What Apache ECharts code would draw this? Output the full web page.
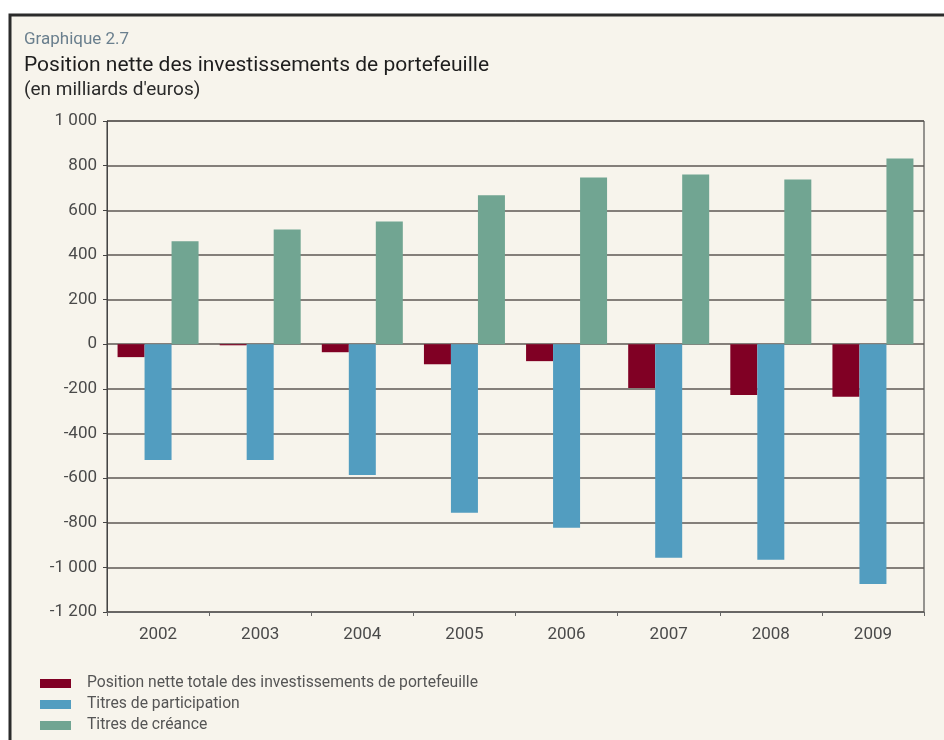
<!DOCTYPE html>
<html><head><meta charset="utf-8">
<script src="https://cdn.jsdelivr.net/npm/echarts@6/dist/echarts.min.js"></script>
<style>html,body{margin:0;padding:0;background:#fff}#c{width:944px;height:740px}</style>
</head><body><div id="c"></div>
<script>
const years = ['2002','2003','2004','2005','2006','2007','2008','2009'];
const seriesNames = ['Position nette totale des investissements de portefeuille','Titres de participation','Titres de créance'];
const positionNette = [-58, -5, -36, -90, -76, -196, -228, -236];
const titresParticipation = [-519, -519, -586, -755, -823, -957, -966, -1074];
const titresCreance = [461, 514, 550, 667, 747, 760, 738, 832];
const colors = ['#800024', '#529dc0', '#71a592'];
const FONT = 'Roboto';

const chart = echarts.init(document.getElementById('c'), null, {renderer: 'canvas'});
function fmt(v){ const s = Math.abs(v).toString().replace(/\B(?=(\d{3})+(?!\d))/g, ' '); return (v < 0 ? '-' : '') + s; }
chart.setOption({
  backgroundColor: '#fff',
  animation: false,
  textStyle: {fontFamily: FONT},
  graphic: [
    {type: 'rect', z: -10, shape: {x: 10, y: 15, width: 960, height: 760}, style: {fill: '#f7f4ec', stroke: '#2b2b2b', lineWidth: 3}},
    {type: 'text', left: 24, top: 31, style: {text: 'Graphique 2.7', fill: '#6a7f8e', font: '17px ' + FONT}},
    {type: 'text', left: 24, top: 55, style: {text: 'Position nette des investissements de portefeuille', fill: '#1e1e1e', font: '21px ' + FONT}},
    {type: 'text', left: 24, top: 81, style: {text: "(en milliards d'euros)", fill: '#2a2a2a', font: '19px ' + FONT}}
  ],
  legend: {
    orient: 'vertical', left: 40, top: 673, padding: 0, itemWidth: 31, itemHeight: 9, itemGap: 0,
    icon: 'rect',
    textStyle: {color: '#555', fontSize: 15.7, lineHeight: 21, fontFamily: FONT, padding: [0, 0, 0, 11]},
    data: seriesNames
  },
  grid: {left: 107, right: 20, top: 121, bottom: 128, show: true, borderColor: '#333', borderWidth: 1, backgroundColor: 'transparent'},
  xAxis: {
    type: 'category', data: years,
    axisLine: {onZero: false, lineStyle: {color: '#666'}},
    axisTick: {show: true, length: 4, lineStyle: {color: '#666'}},
    axisLabel: {color: '#4a4a4a', fontSize: 17, margin: 14, fontFamily: FONT}
  },
  yAxis: {
    type: 'value', min: -1200, max: 1000, interval: 200,
    axisLine: {show: true, lineStyle: {color: '#444'}},
    axisTick: {show: true, length: 4, lineStyle: {color: '#444'}},
    axisLabel: {color: '#4a4a4a', fontSize: 17, margin: 10, formatter: fmt, fontFamily: FONT},
    splitLine: {lineStyle: {color: '#5e5955', width: 1.5}}
  },
  series: [
    {name: seriesNames[0], type: 'bar', data: positionNette, itemStyle: {color: colors[0]}, barWidth: 27, barGap: '0%'},
    {name: seriesNames[1], type: 'bar', data: titresParticipation, itemStyle: {color: colors[1]}, barWidth: 27, barGap: '0%'},
    {name: seriesNames[2], type: 'bar', data: titresCreance, itemStyle: {color: colors[2]}, barWidth: 27, barGap: '0%'}
  ]
});
</script></body></html>
